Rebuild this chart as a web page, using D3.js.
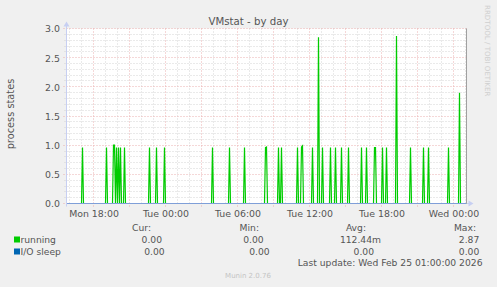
<!DOCTYPE html>
<html><head><meta charset="utf-8">
<script src="https://cdn.jsdelivr.net/npm/d3@7/dist/d3.min.js"></script>
<style>
html,body{margin:0;padding:0;background:#f0f0f0;}
svg{display:block;}
text{font-family:"DejaVu Sans",sans-serif;}
</style></head><body>
<svg id="chart" width="497" height="287"></svg>
<script>
// ---------- data ----------
const chartTitle = "VMstat - by day";
const yAxisLabel = "process states";
const endTime = "2026-02-25 01:05";
const spanSeconds = 120000;            // 400 samples of 5 minutes
const yTickValues = [0, 0.5, 1, 1.5, 2, 2.5, 3];
const xTickLabels = ["Mon 18:00", "Tue 00:00", "Tue 06:00", "Tue 12:00", "Tue 18:00", "Wed 00:00"];

const runningTimes = [
  "2026-02-23 17:05", "2026-02-23 19:05", "2026-02-23 19:40", "2026-02-23 19:45",
  "2026-02-23 19:55", "2026-02-23 20:05", "2026-02-23 20:15", "2026-02-23 20:35",
  "2026-02-23 22:40", "2026-02-23 23:15", "2026-02-23 23:55",
  "2026-02-24 03:55", "2026-02-24 05:20", "2026-02-24 06:35", "2026-02-24 08:20",
  "2026-02-24 08:25", "2026-02-24 09:25", "2026-02-24 09:40", "2026-02-24 11:00",
  "2026-02-24 11:20", "2026-02-24 11:25", "2026-02-24 12:15", "2026-02-24 12:45",
  "2026-02-24 13:05", "2026-02-24 13:45", "2026-02-24 14:10", "2026-02-24 14:40",
  "2026-02-24 15:15", "2026-02-24 16:20", "2026-02-24 16:45", "2026-02-24 17:25",
  "2026-02-24 17:30", "2026-02-24 18:05", "2026-02-24 18:25", "2026-02-24 19:15",
  "2026-02-24 20:25", "2026-02-24 21:30", "2026-02-24 21:55", "2026-02-24 23:35",
  "2026-02-25 00:30"
];
const runningValues = [
  0.96, 0.96, 1.00, 1.00,
  0.96, 0.96, 0.96, 0.96,
  0.96, 0.96, 0.96,
  0.96, 0.96, 0.96, 0.96,
  0.97, 0.96, 0.96, 0.96,
  0.97, 0.99, 0.96, 2.85,
  0.96, 0.96, 0.96, 0.96,
  0.96, 0.96, 0.96, 0.96,
  0.96, 0.96, 0.96, 2.87,
  0.96, 0.96, 0.96, 0.96,
  1.90
];
const ioSleepTimes = ["2026-02-23 15:45", "2026-02-25 01:05"];
const ioSleepValues = [0, 0];

const legendSeries = ["running", "I/O sleep"];
const legendColors = ["#00cc00", "#0066b3"];
const legendHeaders = ["Cur:", "Min:", "Avg:", "Max:"];
const runningStats = ["0.00", "0.00", "112.44m", "2.87"];
const ioSleepStats = ["0.00", "0.00", "0.00", "0.00"];
const lastUpdate = "Last update: Wed Feb 25 01:00:00 2026";
const muninVersion = "Munin 2.0.76";
const watermark = "RRDTOOL / TOBI OETIKER";

// ---------- drawing ----------
(function () {
const parse = d3.timeParse("%Y-%m-%d %H:%M");
const tEnd = parse(endTime);
const tStart = new Date(tEnd.getTime() - spanSeconds * 1000);
const step = 300 * 1000;

const svg = d3.select("#chart");
const pLeft = 66.5, pRight = 466.5, pTop = 28.5, pBottom = 203.5;

const x = d3.scaleTime().domain([tStart, tEnd]).range([pLeft, pRight]);
const y = d3.scaleLinear().domain([0, 3]).range([pBottom, pTop]);

const textColor = "#555555";

// canvas
svg.append("rect").attr("x", pLeft).attr("y", pTop).attr("width", pRight - pLeft).attr("height", pBottom - pTop)
  .attr("fill", "#ffffff");

// grid
const minorColor = "#d4d4d4", majorColor = "#eab0b0";
const grid = svg.append("g");
const hours = d3.timeHour.every(1).range(tStart, tEnd);
hours.forEach(d => {
  const maj = d.getHours() % 3 === 0;
  const px = Math.round(x(d) - 0.5) + 0.5;
  grid.append("line").attr("x1", px).attr("x2", px).attr("y1", pTop).attr("y2", pBottom + (maj ? 3 : 2))
    .attr("stroke", maj ? majorColor : minorColor).attr("stroke-dasharray", "1,2");
});
const minorY = d3.range(0, 31).map(i => i / 10);
minorY.forEach((v, i) => {
  const py = Math.round(y(v) - 0.5) + 0.5;
  const maj = i % 5 === 0;
  grid.append("line").attr("x1", pLeft - (maj ? 3 : 2)).attr("x2", pRight).attr("y1", py).attr("y2", py)
    .attr("stroke", maj ? majorColor : minorColor).attr("stroke-dasharray", "1,2");
});

// running series
const spikeMap = new Map(runningTimes.map((t, i) => [parse(t).getTime(), runningValues[i]]));
const runPts = [[tStart, 0]];
runningTimes.forEach((t, i) => {
  const ms = parse(t).getTime();
  if (!spikeMap.has(ms - step)) runPts.push([new Date(ms - step), 0]);
  runPts.push([new Date(ms), runningValues[i]]);
  if (!spikeMap.has(ms + step)) runPts.push([new Date(ms + step), 0]);
});
runPts.push([tEnd, 0]);

const line = d3.line().x(d => x(d[0])).y(d => y(d[1]));
svg.append("path").datum(runPts).attr("d", line)
  .attr("fill", "none").attr("stroke", legendColors[0]).attr("stroke-width", 1.2)
  .attr("stroke-linejoin", "miter");

// io sleep series
const ioPts = ioSleepTimes.map((t, i) => [parse(t), ioSleepValues[i]]);
svg.append("path").datum(ioPts).attr("d", line)
  .attr("fill", "none").attr("stroke", "#7f9fd8").attr("stroke-width", 1);

// axes lines + arrows
const axisColor = "#c7cff2";
svg.append("line").attr("x1", pLeft).attr("x2", pLeft).attr("y1", pBottom + 3).attr("y2", pTop - 5)
  .attr("stroke", axisColor);
svg.append("path").attr("d", `M${pLeft - 3},${pTop - 2} L${pLeft},${pTop - 7} L${pLeft + 3},${pTop - 2} Z`).attr("fill", axisColor);
svg.append("line").attr("x1", pRight).attr("x2", pRight + 5).attr("y1", pBottom).attr("y2", pBottom)
  .attr("stroke", axisColor);
svg.append("path").attr("d", `M${pRight + 2},${pBottom - 3} L${pRight + 7},${pBottom} L${pRight + 2},${pBottom + 3} Z`).attr("fill", axisColor);
// right frame
svg.append("line").attr("x1", pRight).attr("x2", pRight).attr("y1", pTop).attr("y2", pBottom)
  .attr("stroke", "#a0a0a0");

// x axis labels
const xAxis = d3.axisBottom(x)
  .tickValues(d3.timeHour.every(6).range(tStart, tEnd))
  .tickFormat((d, i) => xTickLabels[i])
  .tickSize(0).tickPadding(0);
const gx = svg.append("g").attr("transform", `translate(0,${pBottom + 13.5})`).call(xAxis);
gx.select(".domain").remove();
gx.selectAll("text").attr("dy", 0).attr("fill", textColor)
  .style("font-family", '"DejaVu Sans"').style("font-size", "9.4px");

// y axis labels
const yAxis = d3.axisLeft(y).tickValues(yTickValues).tickFormat(d3.format(".1f")).tickSize(0).tickPadding(0);
const gy = svg.append("g").attr("transform", `translate(${pLeft - 6.5},0)`).call(yAxis);
gy.select(".domain").remove();
gy.selectAll("text").attr("dy", "0.36em").attr("fill", textColor)
  .style("font-family", '"DejaVu Sans"').style("font-size", "9.4px");

// title
svg.append("text").attr("x", 248.5).attr("y", 24.5).attr("text-anchor", "middle")
  .attr("fill", textColor).style("font-size", "10.2px").text(chartTitle);

// y label
svg.append("text").attr("transform", "translate(14,114) rotate(-90)").attr("text-anchor", "middle")
  .attr("fill", textColor).style("font-size", "9.8px").text(yAxisLabel);

// watermark
svg.append("text").attr("transform", "translate(484.5,5) rotate(90)").attr("text-anchor", "start")
  .attr("fill", "#cfcfcf").style("font-size", "7.1px").text(watermark);

// legend
const legend = svg.append("g").attr("fill", textColor).style("font-size", "9.2px");
const headerRight = [151, 259, 366, 476];
legendHeaders.forEach((h, i) => {
  legend.append("text").attr("x", headerRight[i]).attr("y", 230.5).attr("text-anchor", "end").text(h);
});
const rowY = [242.5, 254.5];
const statRight = [[162, 263.7, 381, 479.3], [164.7, 269.7, 374, 479.3]];
const allStats = [runningStats, ioSleepStats];
legendSeries.forEach((name, r) => {
  legend.append("rect").attr("x", 14).attr("y", rowY[r] - 6).attr("width", 6).attr("height", 6)
    .attr("fill", legendColors[r]);
  legend.append("text").attr("x", 20.5).attr("y", rowY[r]).text(name);
  allStats[r].forEach((s, i) => {
    legend.append("text").attr("x", statRight[r][i]).attr("y", rowY[r]).attr("text-anchor", "end").text(s);
  });
});
legend.append("text").attr("x", 482.5).attr("y", 266).attr("text-anchor", "end").text(lastUpdate);
svg.append("text").attr("x", 248).attr("y", 277.5).attr("text-anchor", "middle")
  .attr("fill", "#c4c4c4").style("font-size", "7px").text(muninVersion);
})();
</script>
</body></html>
